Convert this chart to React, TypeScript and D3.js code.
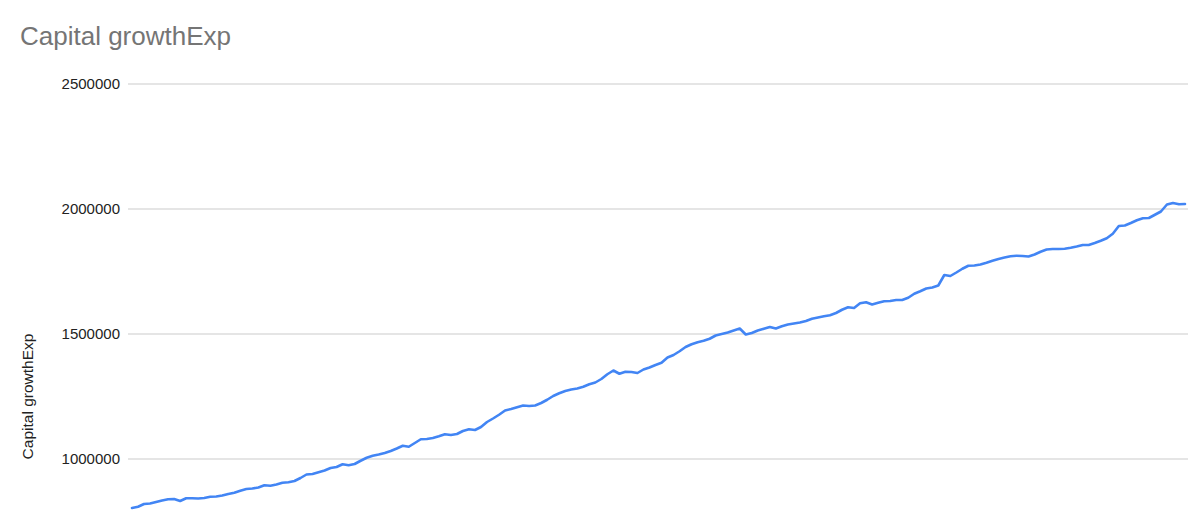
import React from "react";
import * as d3 from "d3";

const chartTitle = "Capital growthExp";
const yAxisTitle = "Capital growthExp";
const yDomain = [0, 2500000];
const yTicks = [1000000, 1500000, 2000000, 2500000];

const capitalGrowthExp = [
  804000, 809000, 820000, 822000, 828000, 834000, 839000, 840000, 832000, 843000,
  843000, 842000, 844000, 849000, 850000, 854000, 860000, 865000, 873000, 880000,
  882000, 886000, 895000, 893000, 898000, 905000, 907000, 912000, 924000, 938000,
  940000, 947000, 954000, 964000, 968000, 979000, 975000, 980000, 993000, 1005000,
  1013000, 1018000, 1024000, 1032000, 1042000, 1053000, 1049000, 1064000, 1079000, 1080000,
  1084000, 1091000, 1099000, 1096000, 1100000, 1112000, 1119000, 1116000, 1128000, 1148000,
  1162000, 1177000, 1194000, 1200000, 1207000, 1214000, 1212000, 1214000, 1224000, 1237000,
  1252000, 1263000, 1272000, 1278000, 1282000, 1289000, 1299000, 1306000, 1320000, 1339000,
  1354000, 1341000, 1349000, 1348000, 1344000, 1358000, 1366000, 1376000, 1385000, 1406000,
  1416000, 1431000, 1448000, 1459000, 1467000, 1473000, 1481000, 1494000, 1500000, 1506000,
  1514000, 1522000, 1498000, 1504000, 1514000, 1521000, 1528000, 1522000, 1531000, 1538000,
  1542000, 1546000, 1552000, 1561000, 1566000, 1571000, 1575000, 1584000, 1597000, 1607000,
  1604000, 1623000, 1627000, 1618000, 1625000, 1631000, 1632000, 1636000, 1636000, 1645000,
  1661000, 1671000, 1682000, 1686000, 1694000, 1736000, 1732000, 1746000, 1761000, 1773000,
  1774000, 1778000, 1785000, 1793000, 1800000, 1806000, 1811000, 1813000, 1812000, 1810000,
  1818000, 1829000, 1838000, 1840000, 1840000, 1841000, 1845000, 1850000, 1856000, 1856000,
  1864000, 1873000, 1883000, 1901000, 1932000, 1934000, 1944000, 1955000, 1963000, 1964000,
  1977000, 1990000, 2018000, 2024000, 2019000, 2020000,
];

const W = 1200;
const H = 523;
const FONT = "Arial, 'Liberation Sans', Helvetica, sans-serif";

export default function App() {
  const plotLeft = 128;
  const plotRight = 1188;
  const plotTop = 84;
  const plotBottom = 709;

  const x = d3
    .scaleLinear()
    .domain([0, capitalGrowthExp.length - 1])
    .range([132, 1185]);
  const y = d3.scaleLinear().domain(yDomain).range([plotBottom, plotTop]);

  const line = d3
    .line<number>()
    .x((_, i) => x(i))
    .y((d) => y(d));

  const axisTitleY = (plotTop + plotBottom) / 2;

  return (
    <svg
      width={W}
      height={H}
      style={{ position: "fixed", left: 0, top: 0, background: "#fff" }}
      fontFamily={FONT}
    >
      <rect x={0} y={0} width={W} height={H} fill="#ffffff" />
      <text x={20} y={45} fontSize={26} fill="#757575">
        {chartTitle}
      </text>
      {yTicks.map((t) => (
        <g key={t}>
          <line
            x1={plotLeft}
            x2={plotRight}
            y1={y(t)}
            y2={y(t)}
            stroke="#cccccc"
            strokeWidth={1.2}
          />
          <text
            x={120}
            y={y(t)}
            dy="0.35em"
            textAnchor="end"
            fontSize={15}
            fill="#222222"
          >
            {t}
          </text>
        </g>
      ))}
      <text
        transform={`translate(33, ${axisTitleY}) rotate(-90)`}
        textAnchor="middle"
        fontSize={15.5}
        fill="#222222"
      >
        {yAxisTitle}
      </text>
      <path
        d={line(capitalGrowthExp) ?? ""}
        fill="none"
        stroke="#4285f4"
        strokeWidth={2.6}
        strokeLinejoin="round"
        strokeLinecap="round"
      />
    </svg>
  );
}
